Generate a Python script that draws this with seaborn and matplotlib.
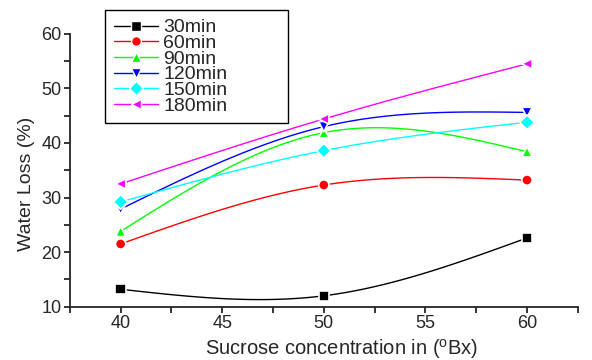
import numpy as np
import pandas as pd
import matplotlib
matplotlib.use('Agg')
import matplotlib.pyplot as plt
from matplotlib.lines import Line2D
import seaborn as sns

# data
brix = [40, 50, 60]
series_names = ['30min', '60min', '90min', '120min', '150min', '180min']
loss_30 = [13.2, 12.0, 22.6]
loss_60 = [21.5, 32.3, 33.2]
loss_90 = [23.8, 41.9, 38.4]
loss_120 = [27.9, 43.0, 45.6]
loss_150 = [29.2, 38.6, 43.8]
loss_180 = [32.5, 44.4, 54.5]

colors = ['#000000', '#FF0000', '#00FF00', '#0000FF', '#00FFFF', '#FF00FF']
markers = ['s', 'o', '^', 'v', 'D', '<']


def natural_spline(x, y, n=80):
    # smooth connecting line through the points (like Origin's spline connect)
    x = np.asarray(x, float)
    y = np.asarray(y, float)
    h = np.diff(x)
    k = len(x)
    A = np.zeros((k, k))
    r = np.zeros(k)
    A[0, 0] = A[-1, -1] = 1
    for i in range(1, k - 1):
        A[i, i - 1] = h[i - 1]
        A[i, i] = 2 * (h[i - 1] + h[i])
        A[i, i + 1] = h[i]
        r[i] = 6 * ((y[i + 1] - y[i]) / h[i] - (y[i] - y[i - 1]) / h[i - 1])
    M = np.linalg.solve(A, r)
    xs = np.linspace(x[0], x[-1], n)
    idx = np.clip(np.searchsorted(x, xs) - 1, 0, k - 2)
    x0, x1 = x[idx], x[idx + 1]
    hh = x1 - x0
    ys = ((M[idx] * (x1 - xs) ** 3 + M[idx + 1] * (xs - x0) ** 3) / (6 * hh)
          + (y[idx] / hh - M[idx] * hh / 6) * (x1 - xs)
          + (y[idx + 1] / hh - M[idx + 1] * hh / 6) * (xs - x0))
    return xs, ys


all_loss = [loss_30, loss_60, loss_90, loss_120, loss_150, loss_180]

points = pd.DataFrame({
    'brix': brix * len(series_names),
    'loss': sum(all_loss, []),
    'series': [s for s in series_names for _ in brix],
})

curve_parts = []
for name, vals in zip(series_names, all_loss):
    xs, ys = natural_spline(brix, vals)
    curve_parts.append(pd.DataFrame({'brix': xs, 'loss': ys, 'series': name}))
curves = pd.concat(curve_parts, ignore_index=True)

sns.set_style('ticks')
plt.rcParams['font.family'] = ['Liberation Sans', 'DejaVu Sans']
plt.rcParams['mathtext.fontset'] = 'custom'
plt.rcParams['mathtext.rm'] = 'Liberation Sans'

fig = plt.figure(figsize=(5.92, 3.6), dpi=100)
ax = fig.add_axes([0.118, 0.148, 0.858, 0.758])

palette = dict(zip(series_names, colors))
sns.lineplot(data=curves, x='brix', y='loss', hue='series', palette=palette,
             estimator=None, sort=False, linewidth=1, legend=False, ax=ax)
sns.scatterplot(data=points, x='brix', y='loss', hue='series', style='series',
                palette=palette, markers=dict(zip(series_names, markers)),
                s=55, edgecolor='white', linewidth=1.2, legend=False, ax=ax, zorder=3)

ax.set_xlim(37.5, 62.5)
ax.set_ylim(10, 60)
ax.set_xticks([40, 45, 50, 55, 60])
ax.set_xticks(np.arange(37.5, 63, 2.5), minor=True)
ax.set_yticks([10, 20, 30, 40, 50, 60])
ax.set_yticks(np.arange(10, 61, 5), minor=True)
ax.tick_params(which='both', direction='out', width=1.3, labelsize=13, pad=2)
ax.tick_params(which='major', length=4)
ax.tick_params(which='minor', length=4)
for side in ['top', 'right']:
    ax.spines[side].set_visible(False)
for side in ['left', 'bottom']:
    ax.spines[side].set_linewidth(1.3)

ax.set_xlabel(r'Sucrose concentration in ($^{\rm o}$Bx)', fontsize=14.5)
ax.xaxis.set_label_coords(0.535, -0.112)
ax.set_ylabel('Water Loss (%)', fontsize=14)
ax.yaxis.set_label_coords(-0.068, 0.45)

handles = [Line2D([], [], color=c, marker=m, markersize=7, markeredgecolor='white',
                  markeredgewidth=1, linewidth=1)
           for c, m in zip(colors, markers)]
leg = fig.legend(handles, series_names, loc='upper left', mode='expand',
                 bbox_to_anchor=(105 / 592, 240 / 360, 183 / 592, 110 / 360),
                 fontsize=14, frameon=True, fancybox=False, edgecolor='black',
                 framealpha=1, handlelength=2.3, handletextpad=0.25,
                 labelspacing=-0.1, borderpad=0.45, borderaxespad=0)
leg.get_frame().set_linewidth(1)

fig.savefig('out.png', dpi=100)
